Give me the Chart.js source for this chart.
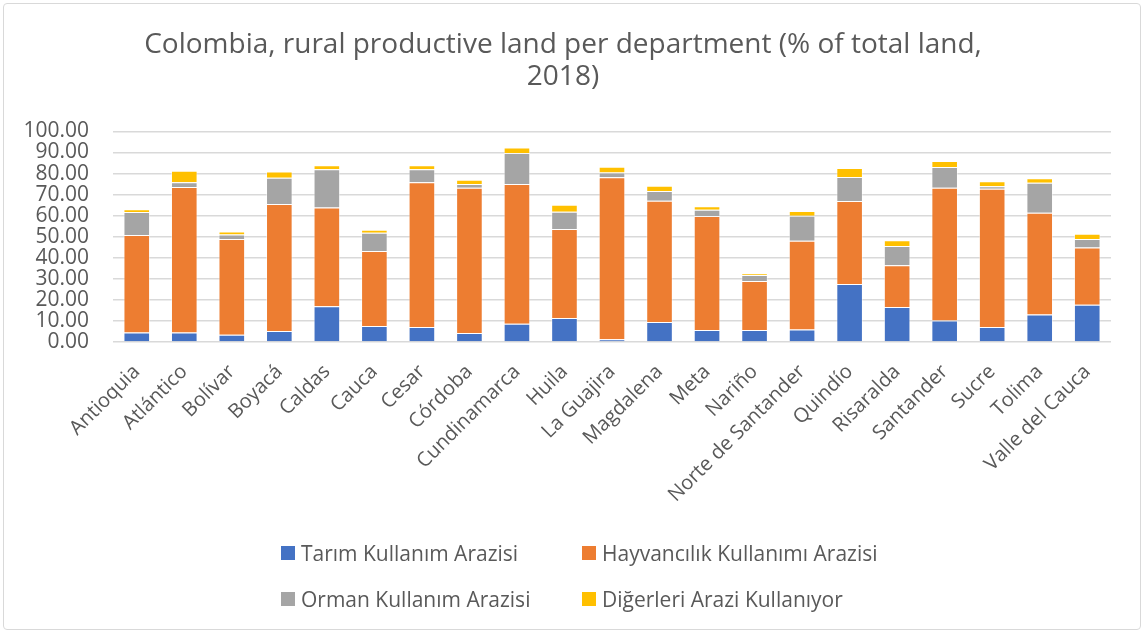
<!DOCTYPE html>
<html>
<head>
<meta charset="utf-8">
<script src="https://cdn.jsdelivr.net/npm/chart.js@4.4.1/dist/chart.umd.min.js"></script>
<style>
  html, body { margin: 0; padding: 0; background: #fff; }
  #wrap { position: relative; width: 1146px; height: 635px; overflow: hidden; }
  #frame { position: absolute; left: 3px; top: 3px; width: 1138px; height: 627px; border: 1px solid #d9d9d9; border-radius: 4px; box-sizing: border-box; }
  #legend { position: absolute; left: 0; top: 0; width: 1146px; height: 635px; pointer-events: none;
            font-family: "Open Sans", sans-serif; font-size: 21px; color: #595959; }
  .item { position: absolute; display: flex; align-items: center; height: 26px; white-space: nowrap; }
  .box { width: 14px; height: 14px; margin-right: 6px; }
</style>
</head>
<body>
<div id="wrap">
  <canvas id="chart" width="1146" height="635"></canvas>
  <div id="frame"></div>
  <div id="legend"></div>
</div>
<script>
const departments = ['Antioquia', 'Atlántico', 'Bolívar', 'Boyacá', 'Caldas', 'Cauca', 'Cesar', 'Córdoba',
  'Cundinamarca', 'Huila', 'La Guajira', 'Magdalena', 'Meta', 'Nariño', 'Norte de Santander', 'Quindío',
  'Risaralda', 'Santander', 'Sucre', 'Tolima', 'Valle del Cauca'];

const tarim =      [4.5, 4.5, 3.5, 5.2, 17.0, 7.6, 7.1, 4.3, 8.7, 11.4, 1.3, 9.5, 5.7, 5.7, 5.9, 27.5, 16.6, 10.2, 7.1, 13.0, 17.7];
const hayvancilik = [46.3, 69.1, 45.4, 60.3, 46.9, 35.6, 68.7, 69.0, 66.3, 42.2, 76.9, 57.6, 54.1, 23.3, 42.2, 39.4, 19.8, 63.1, 65.7, 48.4, 27.2];
const orman =      [10.9, 2.2, 2.1, 12.5, 18.1, 8.7, 6.2, 1.7, 14.7, 8.3, 2.3, 4.6, 3.0, 2.8, 11.9, 11.4, 9.2, 9.8, 1.2, 14.2, 4.0];
const digerleri =  [1.3, 5.5, 1.5, 3.0, 1.9, 1.4, 1.9, 2.1, 2.7, 3.3, 2.7, 2.5, 1.6, 0.8, 2.2, 4.3, 2.7, 2.8, 2.3, 2.2, 2.5];

const seriesNames = ['Tarım Kullanım Arazisi', 'Hayvancılık Kullanımı Arazisi', 'Orman Kullanım Arazisi', 'Diğerleri Arazi Kullanıyor'];
const seriesColors = ['#4472C4', '#ED7D31', '#A5A5A5', '#FFC000'];
const titleLines = ['Colombia, rural productive land per department (% of total land,', '2018)'];

const textColor = '#595959';
const fontFamily = '"Open Sans", sans-serif';

const seriesData = [tarim, hayvancilik, orman, digerleri];

const chart = new Chart(document.getElementById('chart'), {
    type: 'bar',
    data: {
        labels: departments,
        datasets: seriesData.map((d, i) => ({
            label: seriesNames[i],
            data: d,
            backgroundColor: seriesColors[i],
            borderColor: 'rgba(255,255,255,0.45)',
            borderWidth: 1,
            barPercentage: 0.56,
            categoryPercentage: 1.0
        }))
    },
    options: {
        responsive: false,
        animation: false,
        layout: { padding: { left: 15, right: 35, top: 0, bottom: 113 } },
        plugins: {
            legend: { display: false },
            tooltip: { enabled: false },
            title: {
                display: true,
                text: titleLines,
                color: textColor,
                font: { family: fontFamily, size: 28, weight: 'normal', lineHeight: 1.15 },
                padding: { top: 29, bottom: 38 }
            }
        },
        scales: {
            x: {
                stacked: true,
                grid: { display: false },
                border: { display: false },
                ticks: {
                    color: textColor,
                    font: { family: fontFamily, size: 20 },
                    minRotation: 45,
                    maxRotation: 45,
                    autoSkip: false,
                    padding: 10
                },
                afterFit: s => { s.height = 180; }
            },
            y: {
                stacked: true,
                min: 0,
                max: 100,
                grid: { color: '#d9d9d9', lineWidth: 1.5, drawTicks: false },
                border: { display: false },
                ticks: {
                    stepSize: 10,
                    autoSkip: false,
                    color: textColor,
                    font: { family: fontFamily, size: 21 },
                    padding: 24,
                    callback: v => v.toFixed(2)
                },
                afterFit: s => { s.width = 98; }
            }
        }
    }
});

// legend in two columns, as in the reference
const legend = document.getElementById('legend');
const legendPos = [[281, 540], [582, 540], [281, 586], [582, 586]];
chart.data.datasets.forEach((ds, i) => {
    const item = document.createElement('div');
    item.className = 'item';
    item.style.left = legendPos[i][0] + 'px';
    item.style.top = legendPos[i][1] + 'px';
    item.innerHTML = `<span class="box" style="background:${ds.backgroundColor}"></span><span>${ds.label}</span>`;
    legend.appendChild(item);
});
</script>
</body>
</html>
